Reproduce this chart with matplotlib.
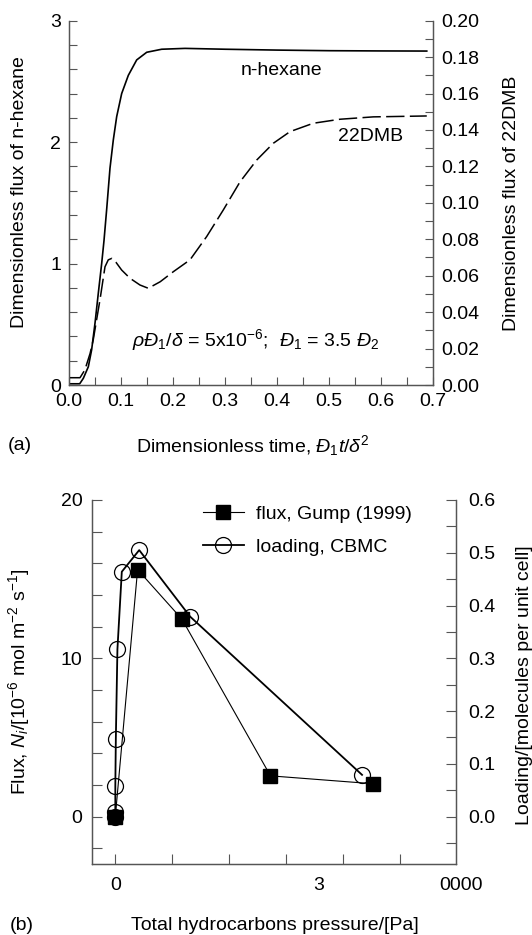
import numpy as np
import matplotlib
matplotlib.use('Agg')
import matplotlib.pyplot as plt
from matplotlib.ticker import MultipleLocator, FormatStrFormatter
from matplotlib.lines import Line2D

plt.rcParams['font.family'] = ['Liberation Sans', 'DejaVu Sans']
plt.rcParams['mathtext.fontset'] = 'custom'
plt.rcParams['mathtext.rm'] = 'Liberation Sans'
plt.rcParams['mathtext.it'] = 'Liberation Sans:italic'
plt.rcParams['font.size'] = 14

# panel (a): dimensionless flux vs dimensionless time
t_hex = [0.0, 0.02, 0.027, 0.0366, 0.043, 0.0495, 0.0558, 0.0623, 0.0668, 0.072,
         0.0783, 0.0847, 0.0912, 0.1008, 0.1136, 0.1297, 0.149, 0.1778, 0.2227,
         0.3, 0.4, 0.5, 0.6, 0.688]
flux_hex = [0.01, 0.01, 0.055, 0.15, 0.29, 0.51, 0.755, 1.0, 1.19, 1.45,
            1.785, 2.018, 2.21, 2.40, 2.55, 2.677, 2.74, 2.765, 2.772,
            2.765, 2.758, 2.753, 2.751, 2.75]

t_dmb = [0.0, 0.0206, 0.030, 0.04, 0.046, 0.059, 0.0687, 0.075, 0.0816, 0.09, 0.1008,
         0.1168, 0.136, 0.152, 0.175, 0.2002, 0.2323, 0.2644, 0.2964, 0.3285,
         0.3607, 0.3926, 0.4248, 0.4696, 0.521, 0.585, 0.688]
flux_dmb = [0.004, 0.004, 0.0083, 0.0173, 0.0247, 0.0467, 0.0649, 0.0687, 0.0695, 0.0673, 0.0631,
            0.0586, 0.0549, 0.0531, 0.0567, 0.0622, 0.0687, 0.0815, 0.0961, 0.1115,
            0.1235, 0.1327, 0.1391, 0.1437, 0.1459, 0.1472, 0.1477]

# panel (b): flux and loading vs total pressure
p_flux = [0, 392, 1172, 2728, 4536]
flux_gump = [0.0, 15.6, 12.47, 2.57, 2.07]

p_load = [0, 0, 0, 9, 37, 114, 420, 1315, 4338]
load_cbmc = [0.0, 0.008, 0.057, 0.147, 0.317, 0.464, 0.505, 0.379, 0.079]

xtick_pos_b = [0, 3569, 6074]
xtick_lab_b = ['0', '3', '0000']

W, H = 532, 935
fig = plt.figure(figsize=(W / 100, H / 100), dpi=100)
gray = '#555555'


def box(l, r, t, b):
    return [l / W, 1 - b / H, (r - l) / W, (b - t) / H]


def style(ax, length):
    for s in ['left', 'right', 'bottom']:
        ax.spines[s].set_color(gray)
        ax.spines[s].set_linewidth(0.9)
    ax.spines['top'].set_visible(False)
    ax.tick_params(which='both', direction='in', length=length, width=0.8,
                   color=gray, pad=6)


# ---------- (a)
ax1 = fig.add_axes(box(69.3, 433, 20.7, 385))
ax1r = ax1.twinx()
ax1.plot(t_hex, flux_hex, color='black', lw=1.2)
ax1r.plot(t_dmb, flux_dmb, color='black', lw=1.1, dashes=(12, 3.5))

ax1.set_xlim(0, 0.7)
ax1.set_ylim(0, 3)
ax1r.set_ylim(0, 0.2)
ax1.xaxis.set_major_locator(MultipleLocator(0.1))
ax1.xaxis.set_minor_locator(MultipleLocator(0.05))
ax1.xaxis.set_major_formatter(FormatStrFormatter('%.1f'))
ax1.yaxis.set_major_locator(MultipleLocator(1))
ax1.yaxis.set_minor_locator(MultipleLocator(0.2))
ax1r.yaxis.set_major_locator(MultipleLocator(0.02))
ax1r.yaxis.set_minor_locator(MultipleLocator(0.01))
ax1r.yaxis.set_major_formatter(FormatStrFormatter('%.2f'))
style(ax1, 5.5)
style(ax1r, 5.5)

ax1.set_xlabel(r'Dimensionless time, $\mathit{Đ}_1t/\delta^2$', va='center')
ax1.xaxis.set_label_coords(0.5045, -0.165)
ax1.set_ylabel('Dimensionless flux of n-hexane', va='center')
ax1.yaxis.set_label_coords(-0.1356, 0.53)
ax1r.set_ylabel('Dimensionless flux of 22DMB', va='center')
ax1r.yaxis.set_label_coords(1.217, 0.5)

ax1.text(0.409, 2.59, 'n-hexane', ha='center', va='center')
ax1.text(0.58, 2.045, '22DMB', ha='center', va='center')
ax1.text(0.12, 0.37,
         r'$\rho\mathit{Đ}_1/\delta$ = 5x10$^{-6}$;  $\mathit{Đ}_1$ = 3.5 $\mathit{Đ}_2$',
         ha='left', va='center')
fig.text(20 / W, 1 - 445 / H, '(a)', ha='center', va='center')

# ---------- (b)
ax2 = fig.add_axes(box(92, 456, 500, 864))
ax2r = ax2.twinx()
ax2.plot(p_flux, flux_gump, color='black', lw=0.8, marker='s', ms=9.5,
         mfc='black', mec='black', zorder=3)
ax2r.plot(p_load, load_cbmc, color='black', lw=1.3, marker='o', ms=11.5,
          mfc='none', mec='black', mew=0.9)

ax2.set_xlim(-410, 5990)
ax2.set_ylim(-3, 20)
ax2r.set_ylim(-0.09, 0.6)
ax2.set_xticks([])
ax2.xaxis.set_minor_locator(MultipleLocator(1000))
ax2.yaxis.set_major_locator(MultipleLocator(10))
ax2.yaxis.set_minor_locator(MultipleLocator(2))
ax2r.yaxis.set_major_locator(MultipleLocator(0.1))
ax2r.yaxis.set_minor_locator(MultipleLocator(0.05))
ax2r.yaxis.set_major_formatter(FormatStrFormatter('%.1f'))
style(ax2, 7)
style(ax2r, 7)
ax2.tick_params(axis='y', pad=7)
ax2r.tick_params(axis='y', pad=9)

trans = matplotlib.transforms.blended_transform_factory(ax2.transData, ax2.transAxes)
for xp, lab in zip(xtick_pos_b, xtick_lab_b):
    ax2.text(xp, -0.058, lab, transform=trans, ha='center', va='center', clip_on=False)

ax2.set_xlabel('Total hydrocarbons pressure/[Pa]', va='center')
ax2.xaxis.set_label_coords(0.503, -0.168)
ax2.set_ylabel(r'Flux, $\mathit{N}_i$/[10$^{-6}$ mol m$^{-2}$ s$^{-1}$]', va='center')
ax2.yaxis.set_label_coords(-0.201, 0.5)
ax2r.set_ylabel('Loading/[molecules per unit cell]', va='center')
ax2r.yaxis.set_label_coords(1.187, 0.49)

handles = [Line2D([], [], color='black', lw=0.8, marker='s', ms=9.5, mfc='black'),
           Line2D([], [], color='black', lw=1.3, marker='o', ms=11.5, mfc='none', mew=0.9)]
ax2.legend(handles, ['flux, Gump (1999)', 'loading, CBMC'], loc='upper left',
           bbox_to_anchor=(0.305, 0.985), frameon=False, borderpad=0,
           borderaxespad=0, handlelength=2.1, handletextpad=0.62, labelspacing=0.8)
fig.text(22 / W, 1 - 925 / H, '(b)', ha='center', va='center')

fig.savefig('out.png', dpi=100)
